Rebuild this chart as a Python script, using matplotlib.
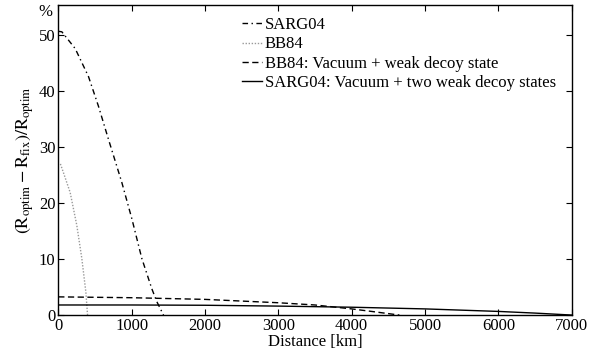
import matplotlib
matplotlib.use('Agg')
import matplotlib.pyplot as plt

plt.rcParams['font.family'] = 'Liberation Serif'
plt.rcParams['mathtext.fontset'] = 'stix'

# SARG04 (dash-dot)
sarg_x = [0, 50, 232, 413, 549, 685, 867, 1004, 1140, 1276, 1344, 1435]
sarg_y = [50.7, 50.6, 47.6, 42.6, 37.3, 31.4, 23.7, 17.2, 10.1, 4.7, 2.4, 0]
# BB84 (dotted)
bb_x = [30, 70, 163, 254, 322, 377, 400]
bb_y = [27, 25.5, 21.9, 16, 10.1, 4.1, 0]
# BB84: vacuum + weak decoy
bbd_x = [0, 1000, 2000, 2500, 3000, 3500, 4000, 4300, 4650]
bbd_y = [3.25, 3.1, 2.8, 2.5, 2.2, 1.8, 1.1, 0.6, 0]
# SARG04: vacuum + two weak decoys
sd_x = [0, 1000, 2000, 3000, 4000, 5000, 6000, 6500, 7000]
sd_y = [1.8, 1.8, 1.75, 1.6, 1.4, 1.1, 0.65, 0.35, 0]

fig = plt.figure(figsize=(6, 3.54), dpi=100)
ax = fig.add_axes([0.097, 0.11, 0.856, 0.876])

ax.plot(sarg_x, sarg_y, color='black', linestyle=(0, (4, 2.5, 1, 2.5)), linewidth=1, label='SARG04')
ax.plot(bb_x, bb_y, color='#999999', linestyle=(0, (1, 1.2)), linewidth=1, label='BB84')
ax.plot(bbd_x, bbd_y, color='black', linestyle=(0, (4.5, 2.5)), linewidth=1,
        label='BB84: Vacuum + weak decoy state')
ax.plot(sd_x, sd_y, color='black', linestyle='-', linewidth=1,
        label='SARG04: Vacuum + two weak decoy states')

ax.set_xlim(0, 7000)
ax.set_ylim(0, 55.4)
ax.set_yticks([0, 10, 20, 30, 40, 50])
ax.set_xticks(range(0, 7001, 1000))
ax.tick_params(direction='in', top=True, right=True, labelsize=12, length=4, pad=2)
for s in ax.spines.values():
    s.set_linewidth(1)

ax.set_xlabel('Distance [km]', fontsize=12, labelpad=0)
ax.set_ylabel(r'$(\mathrm{R_{optim}} - \mathrm{R_{fix}})/\mathrm{R_{optim}}$', fontsize=13, labelpad=2)
ax.text(-0.025, 0.978, '%', transform=ax.transAxes, fontsize=12, ha='center', va='center')

ax.legend(loc='upper left', bbox_to_anchor=(0.332, 1.004), frameon=False, fontsize=12,
          handlelength=1.2, handletextpad=0.15, labelspacing=0.2, borderpad=0.3)

fig.savefig('out.png', dpi=100)
